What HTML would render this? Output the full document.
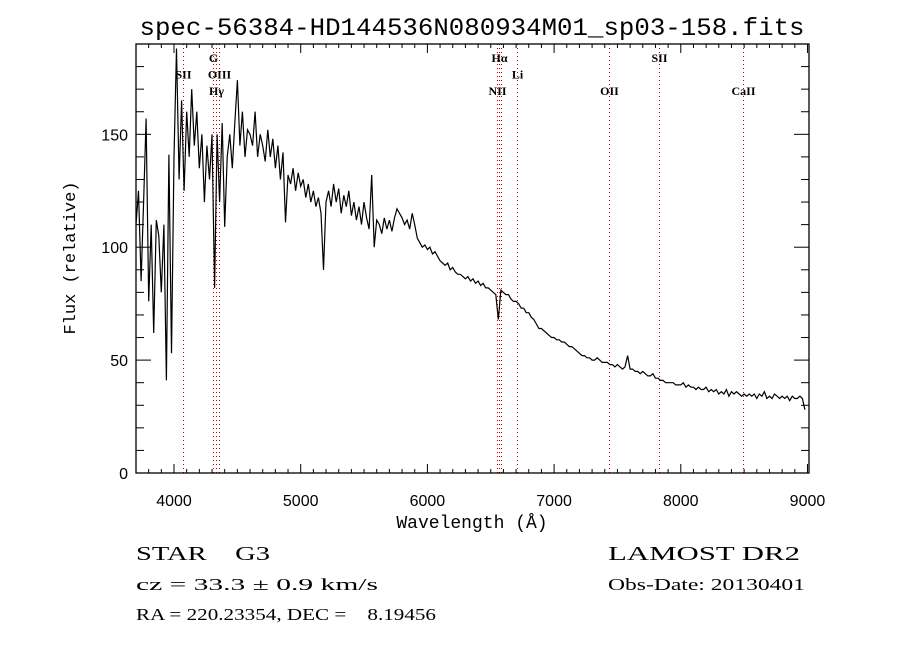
<!DOCTYPE html>
<html><head><meta charset="utf-8"><style>
html,body{margin:0;padding:0;background:#fff;}
svg{display:block;}
</style></head><body>
<svg id="chart" width="900" height="650" xmlns="http://www.w3.org/2000/svg">
<text x="472" y="35" text-anchor="middle" font-family="Liberation Mono, monospace" font-size="25" textLength="665" lengthAdjust="spacingAndGlyphs">spec-56384-HD144536N080934M01_sp03-158.fits</text>
<text transform="translate(75,258) rotate(-90)" text-anchor="middle" font-family="Liberation Mono, monospace" font-size="17">Flux (relative)</text>
<text x="472" y="528" text-anchor="middle" font-family="Liberation Mono, monospace" font-size="18">Wavelength (Å)</text>
<g font-family="Liberation Serif, serif" font-size="20">
<text x="136" y="560" xml:space="preserve" textLength="134" lengthAdjust="spacingAndGlyphs">STAR    G3</text>
<text x="608" y="560" textLength="192" lengthAdjust="spacingAndGlyphs">LAMOST DR2</text>
</g>
<g font-family="Liberation Serif, serif" font-size="17">
<text x="136" y="590" textLength="242" lengthAdjust="spacingAndGlyphs">cz = 33.3 ± 0.9 km/s</text>
<text x="608" y="590" textLength="197" lengthAdjust="spacingAndGlyphs">Obs-Date: 20130401</text>
<text x="136" y="620" xml:space="preserve" textLength="300" lengthAdjust="spacingAndGlyphs">RA = 220.23354, DEC =    8.19456</text>
</g>
<g id="lines"></g>
<g id="axes"></g>
<g id="series"></g>
</svg>
<script>
const flux = [110,125,85,120,157,76,110,62,112,105,80,110,41,141,53,
140,188,130,165,125,160,140,170,145,160,135,150,120,145,130,150,82,150,120,155,109,140,150,135,155,174,145,160,140,152,150,145,160,140,150,145,138,152,140,148,135,145,130,142,111,132,128,135,125,133,
127,130,122,128,120,125,118,122,115,90,120,125,118,128,120,126,115,123,118,125,114,120,112,118,110,120,113,108,132,100,112,110,106,113,108,112,107,113,117,115,
113,110,112,108,115,110,104,102,100,101,99,100,97,98,96,94,93,92,93,90,91,89,88,88,87,86,87,85,86,84,85,83,84,82,82,81,80,79,68,81,80,79,79,77,76,76,75,73,73,71,71,69,68,66,64,64,63,62,61,60,
60,59,59,58,58,57,56,56,55,54,53,52,52,51,51,50,50,51,50,49,49,49,48,48,47,48,47,46,47,52,46,46,45,45,44,45,44,43,43,44,42,42,41,41,40,40,40,40,39,39,
39,40,38,39,38,38,37,38,37,37,38,36,37,36,37,35,36,35,37,34,36,35,36,35,34,35,34,35,34,35,33,35,34,36,33,34,33,35,34,33,34,33,34,32,34,33,33,34,33,28];
const waveStart = 3700;
const waveStep = 20;
const xTickValues = [4000,5000,6000,7000,8000,9000];
const yTickValues = [0,50,100,150];
const lineNames = ["SII","G","OIII","H\u03b3","H\u03b1","NII","NII","Li","OII","SII","CaII"];
const lineWaves = [4071,4308,4355,4331,6565,6548,6583,6707,7433,7828,8491];
const lineLabelRow = [1,0,1,2,0,2,-1,1,2,0,2];

const NS="http://www.w3.org/2000/svg";
const L=136,R=809,T=44,B=473, xmin=3700, xmax=9012, ymin=0, ymax=190;
const xs=v=>L+(v-xmin)/(xmax-xmin)*(R-L);
const ys=v=>B-(v-ymin)/(ymax-ymin)*(B-T);
function mk(tag,attrs,parent){const e=document.createElementNS(NS,tag);for(const k in attrs)e.setAttribute(k,attrs[k]);parent.appendChild(e);return e;}
const axes=document.getElementById('axes'), lines=document.getElementById('lines'), series=document.getElementById('series');

lineWaves.forEach((w,i)=>{
  const x=Math.round(xs(w))+0.5;
  const ln=mk('line',{x1:x,x2:x,y1:T,y2:B,stroke:'#c00000','stroke-width':1,'stroke-dasharray':'1,3'},lines);
  
  
  if(lineLabelRow[i]>=0){
    const t=mk('text',{x:x,y:62+lineLabelRow[i]*16.5,'text-anchor':'middle','font-family':'Liberation Serif, serif','font-size':12,'font-weight':'bold'},lines);
    t.textContent=lineNames[i];
    
    
  }
});

const fr=mk('rect',{x:L,y:T,width:R-L,height:B-T,fill:'none',stroke:'#000','stroke-width':1.3},axes);



for(let v=3700; v<=9000; v+=100){
  const x=xs(v), major=(v%1000===0);
  const len=major?9:4;
  mk('line',{x1:x,x2:x,y1:B,y2:B-len,stroke:'#000'},axes);
  mk('line',{x1:x,x2:x,y1:T,y2:T+len,stroke:'#000'},axes);
}
xTickValues.forEach(v=>{
  const t=mk('text',{x:xs(v),y:506,'text-anchor':'middle','font-family':'Liberation Sans, sans-serif','font-size':16},axes);
  t.textContent=v;
  
  
});
for(let v=0; v<=190; v+=10){
  const y=ys(v), major=(v%50===0);
  const len=major?15:8;
  mk('line',{x1:L,x2:L+len,y1:y,y2:y,stroke:'#000'},axes);
  mk('line',{x1:R,x2:R-len,y1:y,y2:y,stroke:'#000'},axes);
}
yTickValues.forEach(v=>{
  const t=mk('text',{x:128,y:ys(v)+6,'text-anchor':'end','font-family':'Liberation Sans, sans-serif','font-size':16},axes);
  t.textContent=v;
  
  
});

mk('clipPath',{id:'clip'},series).appendChild((()=>{const r=document.createElementNS(NS,'rect');r.setAttribute('x',L);r.setAttribute('y',T);r.setAttribute('width',R-L);r.setAttribute('height',B-T);return r;})());
let d='';
flux.forEach((f,i)=>{const w=waveStart+i*waveStep;d+=(i?'L':'M')+xs(w).toFixed(1)+','+ys(f).toFixed(1);});
const p=mk('path',{d:d,fill:'none',stroke:'#000','stroke-width':1.2,'clip-path':'url(#clip)'},series);


</script>
</body></html>
